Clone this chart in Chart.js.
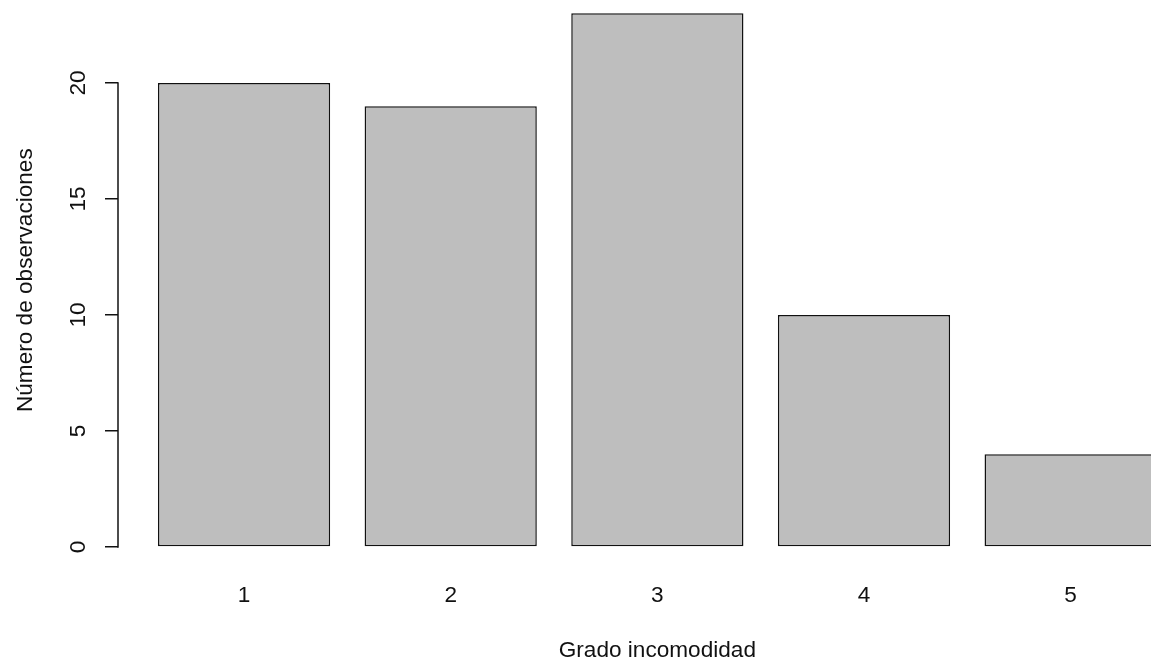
<!DOCTYPE html>
<html><head><meta charset="utf-8">
<script src="https://cdn.jsdelivr.net/npm/chart.js@4/dist/chart.umd.min.js"></script>
<style>
html,body{margin:0;padding:0;background:#fff;overflow:hidden;width:1151px;height:666px;}
#wrap{position:absolute;left:0;top:-20px;width:1240px;height:686px;}
</style></head><body>
<div id="wrap"><canvas id="c" width="1240" height="686"></canvas></div>
<script>
const categories = ['1', '2', '3', '4', '5'];
const counts = [20, 19, 23, 10, 4];
const yTickValues = [0, 5, 10, 15, 20];
const xTitle = 'Grado incomodidad';
const yTitle = 'Número de observaciones';

// barplot geometry (bar width 1, space 0.2, 4% axis extension)
const barWidth = 1, barSpace = 0.2;
const centers = categories.map((_, i) => barSpace + barWidth / 2 + i * (barWidth + barSpace));
const xLo = barSpace, xHi = categories.length * (barWidth + barSpace);
const xExt = 0.04 * (xHi - xLo);
const yHi = Math.max(...counts), yExt = 0.04 * yHi;

const FONT = { family: "'Liberation Sans', Arial, sans-serif", size: 22.6 };
const INK = '#111';

const rAxisLine = {
  id: 'rAxisLine',
  afterDraw(chart) {
    const s = chart.scales.y, ctx = chart.ctx;
    ctx.save();
    ctx.strokeStyle = INK; ctx.lineWidth = 1.5; ctx.lineCap = 'square';
    ctx.beginPath();
    ctx.moveTo(s.right, s.getPixelForValue(yTickValues[0]));
    ctx.lineTo(s.right, s.getPixelForValue(yTickValues[yTickValues.length - 1]));
    ctx.stroke();
    ctx.restore();
  }
};

new Chart(document.getElementById('c'), {
  type: 'bar',
  data: {
    datasets: [{
      data: counts.map((v, i) => ({ x: centers[i], y: v })),
      backgroundColor: '#BEBEBE',
      borderColor: INK,
      borderWidth: 1.5,
      borderSkipped: false,
      categoryPercentage: 1,
      barPercentage: barWidth / (barWidth + barSpace)
    }]
  },
  options: {
    responsive: false,
    devicePixelRatio: 1,
    animation: false,
    layout: { padding: { left: 0, top: 12, right: 43.3, bottom: 0 } },
    plugins: { legend: { display: false }, tooltip: { enabled: false } },
    scales: {
      x: {
        type: 'linear',
        min: xLo - xExt,
        max: xHi + xExt,
        offset: false,
        afterBuildTicks: axis => { axis.ticks = centers.map(v => ({ value: v })); },
        afterFit: s => { s.height = 97.7; s.paddingLeft = 0; s.paddingRight = 0; },
        ticks: {
          callback: (v, i) => categories[i],
          autoSkip: false, maxRotation: 0, minRotation: 0,
          padding: 13.6, font: FONT, color: INK
        },
        grid: { display: false, drawTicks: false },
        border: { display: false },
        title: { display: true, text: xTitle, font: FONT, color: INK, padding: { top: 0, bottom: 2.1 } }
      },
      y: {
        type: 'linear',
        min: -yExt,
        max: yHi + yExt,
        afterBuildTicks: axis => { axis.ticks = yTickValues.map(v => ({ value: v })); },
        afterFit: s => { s.width = 118; s.paddingTop = 0; s.paddingBottom = 0; },
        ticks: {
          minRotation: 90, maxRotation: 90,
          crossAlign: 'center',
          padding: 14.0, font: FONT, color: INK
        },
        grid: { display: true, drawOnChartArea: false, drawTicks: true, tickLength: 13, color: INK, lineWidth: 1.5 },
        border: { display: false },
        title: { display: true, text: yTitle, font: FONT, color: INK, padding: { top: 12.2, bottom: 0 } }
      }
    }
  },
  plugins: [rAxisLine]
});
</script>
</body></html>
